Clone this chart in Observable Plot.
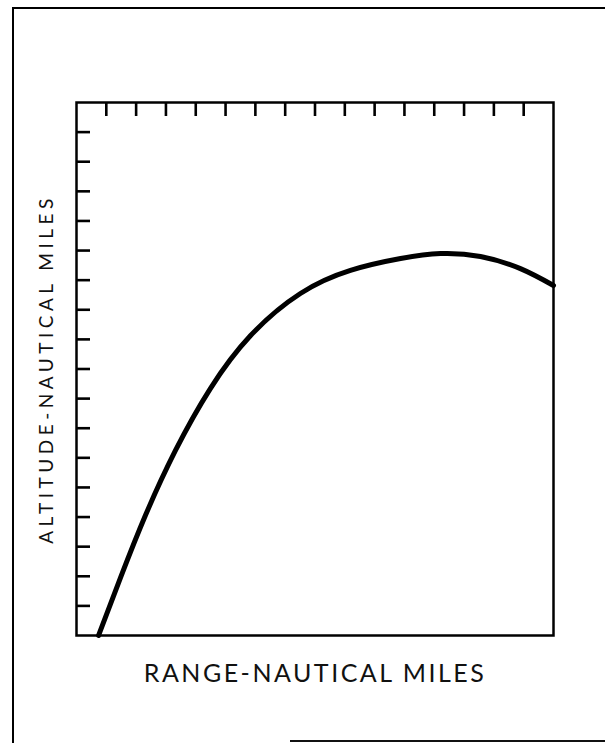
<!DOCTYPE html>
<html>
<head>
<meta charset="utf-8">
<script src="https://cdn.jsdelivr.net/npm/d3@7"></script>
<script src="https://cdn.jsdelivr.net/npm/@observablehq/plot@0.6"></script>
<style>
  html, body { margin: 0; padding: 0; background: #fff; }
  #wrap { position: relative; width: 605px; height: 743px; overflow: hidden; }
  #border { position: absolute; left: 12px; top: 7px; right: -10px; bottom: -10px;
            border-left: 2px solid #000; border-top: 2px solid #000; }
  #bottomline { position: absolute; left: 290px; right: 0; top: 740px; border-top: 2px solid #111; }
  #chart { position: absolute; left: 0; top: 0; }
</style>
</head>
<body>
<div id="wrap">
  <div id="border"></div>
  <div id="bottomline"></div>
  <div id="chart"></div>
</div>
<script>
// Trajectory (units = tick intervals)
const rangeVals = [0.74, 1.48, 2.31, 3.32, 4.49, 5.84, 7.51, 9.19, 10.87, 12.21, 13.55, 14.89, 16];
const altVals   = [0, 1.96, 4.05, 6.25, 8.34, 10.13, 11.55, 12.33, 12.73, 12.9, 12.8, 12.39, 11.82];
const xTicks = [1,2,3,4,5,6,7,8,9,10,11,12,13,14,15];
const yTicks = [1,2,3,4,5,6,7,8,9,10,11,12,13,14,15,16,17];
const xDomain = [0, 16];
const yDomain = [0, 18];
const xLabel = "RANGE-NAUTICAL MILES";
const yLabel = "ALTITUDE-NAUTICAL MILES";

const data = rangeVals.map((r, i) => ({range: r, alt: altVals[i]}));

const chart = Plot.plot({
  width: 605,
  height: 743,
  marginLeft: 76,
  marginRight: 52,
  marginTop: 102,
  marginBottom: 108,
  style: {background: "transparent", fontFamily: "Lato, 'DejaVu Sans', sans-serif"},
  x: {domain: xDomain},
  y: {domain: yDomain},
  marks: [
    Plot.axisX({anchor: "top", ticks: xTicks, tickSize: -13, tickFormat: () => "", strokeWidth: 2.6, label: null}),
    Plot.axisY({anchor: "left", ticks: yTicks, tickSize: -14, tickFormat: () => "", strokeWidth: 2.6, label: null}),
    Plot.line(data, {x: "range", y: "alt", curve: "natural", stroke: "#000", strokeWidth: 5}),
    Plot.frame({stroke: "#000", strokeWidth: 2.5}),
    Plot.text([xLabel], {frameAnchor: "bottom", dy: 46, fontSize: 25, fill: "#111", text: d => d,
      textAnchor: "middle"}),
    Plot.text([yLabel], {frameAnchor: "left", dx: -30, rotate: -90, fontSize: 19, fill: "#111", text: d => d,
      textAnchor: "middle"})
  ]
});
// letter spacing for the labels
chart.querySelectorAll("text").forEach(t => {
  if (t.textContent === xLabel) t.setAttribute("letter-spacing", "2.5px");
  if (t.textContent === yLabel) t.setAttribute("letter-spacing", "4.5px");
});
document.getElementById("chart").appendChild(chart);
</script>
</body>
</html>
